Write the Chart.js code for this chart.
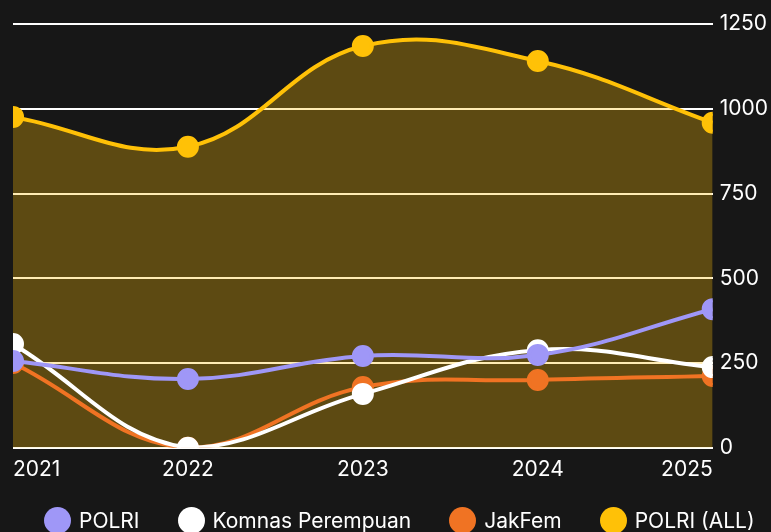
<!DOCTYPE html>
<html>
<head>
<meta charset="utf-8">
<script src="https://cdn.jsdelivr.net/npm/chart.js@4"></script>
<style>
  html, body { margin: 0; padding: 0; background: #171717; }
  #wrap { position: relative; width: 771px; height: 532px; }
  #legenda {
    position: absolute; left: 44px; top: 506px; height: 28px;
    display: flex; align-items: center; gap: 38px;
    font-family: Inter, "Noto Sans", sans-serif; font-size: 21px; color: #ffffff;
  }
  .item { display: flex; align-items: center; white-space: nowrap; }
  .bola { width: 27px; height: 27px; border-radius: 50%; margin-right: 8px; }
</style>
</head>
<body>
<div id="wrap">
  <canvas id="grafico" width="771" height="532"></canvas>
  <div id="legenda"></div>
</div>
<script>
const anos = ["2021", "2022", "2023", "2024", "2025"];
const polri = [256, 203, 271, 274, 409];
const komnas = [306, 0, 159, 288, 238];
const jakfem = [250, 0, 179, 200, 212];
const polriAll = [976, 888, 1185, 1141, 959];
const yTicks = [0, 250, 500, 750, 1000, 1250];

const fonte = "Inter, 'Noto Sans', sans-serif";

function serie(label, data, cor, fill) {
    return {
        label: label,
        data: data,
        borderColor: cor,
        backgroundColor: fill ? "rgba(255, 193, 7, 0.3)" : cor,
        pointBackgroundColor: cor,
        pointBorderColor: cor,
        pointRadius: 9,
        pointHoverRadius: 9,
        borderWidth: 4,
        tension: 0.4,
        fill: fill ? "origin" : false,
        clip: 0
    };
}

const grafico = new Chart(document.getElementById("grafico"), {
    type: "line",
    data: {
        labels: anos,
        datasets: [
            serie("POLRI", polri, "#9f97f7", false),
            serie("Komnas Perempuan", komnas, "#ffffff", false),
            serie("JakFem", jakfem, "#f07323", false),
            serie("POLRI (ALL)", polriAll, "#ffc107", true)
        ]
    },
    options: {
        responsive: false,
        animation: false,
        layout: { padding: { left: 10, top: 24, right: -4, bottom: 49 } },
        plugins: {
            tooltip: { enabled: false },
            legend: { display: false }
        },
        scales: {
            x: {
                grid: { display: false },
                border: { display: false },
                ticks: {
                    color: "#ffffff",
                    align: "inner",
                    padding: 1,
                    maxRotation: 0,
                    font: { family: fonte, size: 21 }
                }
            },
            y: {
                position: "right",
                min: 0,
                max: 1250,
                afterBuildTicks: function (axis) {
                    axis.ticks = yTicks.map(v => ({ value: v }));
                },
                grid: { color: "#ffffff", lineWidth: 2, drawTicks: false },
                border: { display: false },
                ticks: {
                    color: "#ffffff",
                    padding: 7,
                    font: { family: fonte, size: 21 },
                    callback: v => String(v)
                }
            }
        }
    }
});

// legenda em HTML, montada a partir dos datasets
const legenda = document.getElementById("legenda");
legenda.innerHTML = grafico.data.datasets.map(d => `
    <div class="item">
        <span class="bola" style="background:${d.borderColor}"></span>
        <span>${d.label}</span>
    </div>
`).join("");
</script>
</body>
</html>
